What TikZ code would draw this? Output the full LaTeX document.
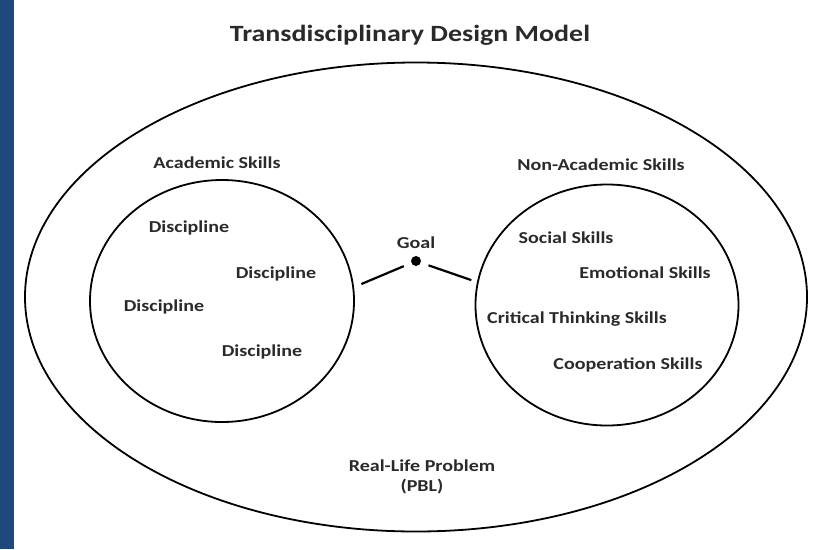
\documentclass[tikz,border=0pt]{standalone}
\usepackage{fontspec}
\setmainfont{Carlito}[FakeStretch=1.2]
\usetikzlibrary{shapes.geometric}
\definecolor{bandblue}{HTML}{1F497D}
\definecolor{inkgray}{HTML}{2A2A2A}
\begin{document}
\begin{tikzpicture}[x=1pt,y=-1pt,
    ring/.style={draw=black, line width=1.8pt, ellipse, inner sep=0pt},
    lbl/.style={font=\fontsize{16.7}{20}\selectfont\bfseries, text=inkgray, inner sep=0pt},
    link/.style={line width=2.2pt}]
    \useasboundingbox (0,0) rectangle (826,549);
    \fill[bandblue] (0,0) rectangle (14,549);

    \node (title) [lbl, font=\fontsize{23.3}{27}\selectfont\bfseries] at (410,35) {Transdisciplinary Design Model};
    \node (world) [ring, minimum width=782pt, minimum height=469pt] at (416,297) {};
    \node (acad) [ring, minimum width=264pt, minimum height=242pt] at (222,301) {};
    \node (nonacad) [ring, minimum width=263pt, minimum height=241pt] at (607,305) {};

    \node (acadlbl) [lbl] at (217,163) {Academic Skills};
    \node (d1) [lbl] at (189,228) {Discipline};
    \node (d2) [lbl] at (276,274) {Discipline};
    \node (d3) [lbl] at (164,307) {Discipline};
    \node (d4) [lbl] at (262,352) {Discipline};

    \node (nonlbl) [lbl] at (601,165) {Non-Academic Skills};
    \node (social) [lbl] at (566,238) {Social Skills};
    \node (emotion) [lbl] at (645,273) {Emotional Skills};
    \node (critical) [lbl] at (577,319) {Critical Thinking Skills};
    \node (coop) [lbl] at (628,365) {Cooperation Skills};

    \node (goallbl) [lbl] at (416,243) {Goal};
    \node (goal) [circle, fill=black, inner sep=0pt, minimum size=10pt] at (416,261) {};
    \draw[link, shorten <=8pt, shorten >=8pt] (goal) -- (acad.6);
    \draw[link, shorten <=8pt, shorten >=6pt] (goal) -- (nonacad.170);

    \node (problem) [lbl, align=center] at (422,477) {Real-Life Problem\\(PBL)};
\end{tikzpicture}
\end{document}
